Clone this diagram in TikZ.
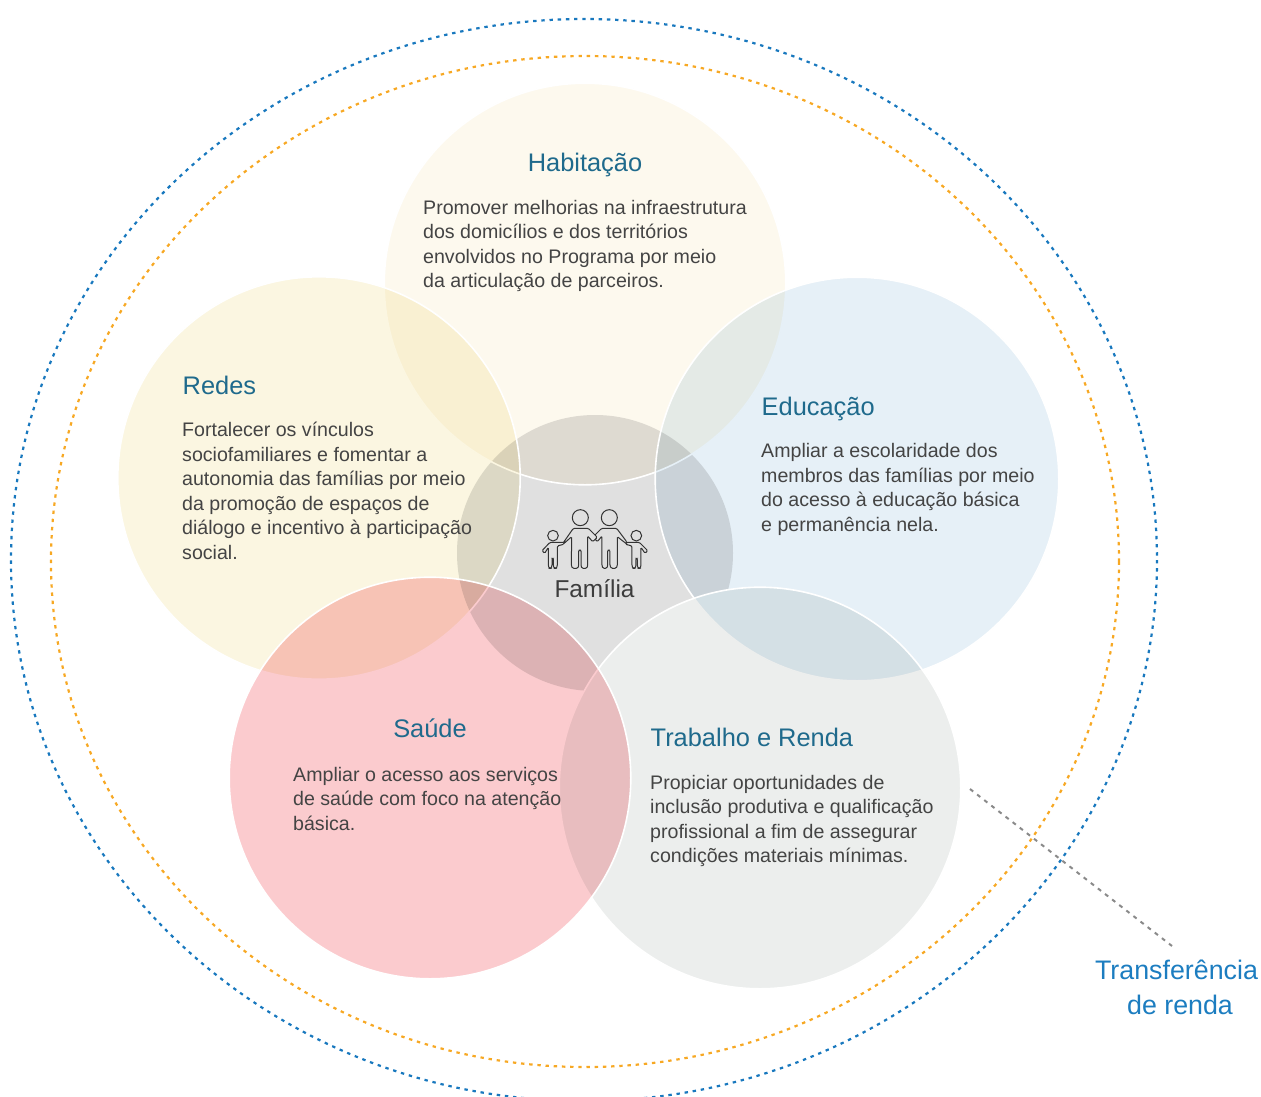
\documentclass[tikz,border=0pt]{standalone}
\usepackage{fontspec}
\setmainfont{Liberation Sans}
\definecolor{cHab}{HTML}{FDF9EE}
\definecolor{cRed}{HTML}{FBF6E1}
\definecolor{cEdu}{HTML}{E6F0F7}
\definecolor{cSau}{HTML}{FBCBCE}
\definecolor{cTra}{HTML}{ECEEED}
\definecolor{cCen}{HTML}{E0E0E0}
\definecolor{cBlue}{HTML}{1878BE}
\definecolor{cOrange}{HTML}{F7A823}
\definecolor{cGrey}{HTML}{8A8A8A}
\definecolor{cTitle}{HTML}{1F6A8C}
\definecolor{cText}{HTML}{444444}
\definecolor{cLabel}{HTML}{1C7DC0}
\tikzset{
  x=1pt,y=-1pt,
  fillc/.style={fill=#1,draw=none,blend mode=multiply},
  edgec/.style={draw=white,line width=1.6pt,fill=none},
  ring/.style={draw=#1,line width=2.2pt,dash pattern=on 3.4pt off 4.8pt,fill=none},
  leadline/.style={draw=cGrey,line width=2pt,dash pattern=on 4pt off 5pt},
  titletxt/.style={anchor=base,inner sep=0pt,text=cTitle,font=\fontsize{25.4}{30}\selectfont},
  bodytxt/.style={anchor=north west,inner sep=0pt,align=left,text=cText,font=\fontsize{19.6}{24.5}\selectfont},
  icon/.style={draw=black!80,line width=1pt,fill=none,rounded corners=1.2pt},
}
\begin{document}
\begin{tikzpicture}
\useasboundingbox (0,0) rectangle (1261,1096);
\begin{scope}
\clip (0,0) rectangle (1261,1096);
\path[fillc=cCen] (595,553) circle (138);
\fill[white] (760,788) circle (200.8);
\path[fillc=cHab] (585,284) circle (200.8);
\draw[edgec] (585,284) circle (200.8);
\path[fillc=cEdu] (857,479) circle (201.8);
\draw[edgec] (857,479) circle (201.8);
\path[fillc=cRed] (319,478) circle (201.2);
\draw[edgec] (319,478) circle (201.2);
\path[fillc=cTra] (760,788) circle (200.8);
\draw[edgec] (760,788) circle (200.8);
\path[fillc=cSau] (430,778) circle (200.8);
\draw[edgec] (430,778) circle (200.8);
\draw[ring=cBlue] (584,560) ellipse [x radius=573,y radius=541];
\draw[ring=cOrange] (585,561.5) ellipse [x radius=534,y radius=505.5];
\end{scope}
\coordinate (leadA) at (970,789);
\coordinate (leadB) at (1172,946);
\draw[leadline] (leadA) -- (leadB);
\node[titletxt] (tHab) at (585,171) {Habitação};
\node[bodytxt] (bHab) at (423,200) {Promover melhorias na infraestrutura\\dos domicílios e dos territórios\\envolvidos no Programa por meio\\da articulação de parceiros.};
\node[titletxt,anchor=base west] (tRed) at (182.5,394) {Redes};
\node[bodytxt] (bRed) at (182,422) {Fortalecer os vínculos\\sociofamiliares e fomentar a\\autonomia das famílias por meio\\da promoção de espaços de\\diálogo e incentivo à participação\\social.};
\node[titletxt,anchor=base west] (tEdu) at (761.5,415) {Educação};
\node[bodytxt] (bEdu) at (761,443.5) {Ampliar a escolaridade dos\\membros das famílias por meio\\do acesso à educação básica\\e permanência nela.};
\node[titletxt] (tSau) at (430,737) {Saúde};
\node[bodytxt] (bSau) at (293,767) {Ampliar o acesso aos serviços\\de saúde com foco na atenção\\básica.};
\node[titletxt,anchor=base west] (tTra) at (650.5,746) {Trabalho e Renda};
\node[bodytxt] (bTra) at (650,775) {Propiciar oportunidades de\\inclusão produtiva e qualificação\\profissional a fim de assegurar\\condições materiais mínimas.};
\node[anchor=base,inner sep=0pt,text=cText!90!black,font=\fontsize{24.4}{30}\selectfont] (fam) at (594.5,597) {Família};
\node[anchor=north,inner sep=0pt,align=center,text=cLabel,font=\fontsize{26.8}{34.5}\selectfont] (lab) at (1176.5,960) {Transferência\\\hspace*{7pt}de renda};
\begin{scope}[shift={(520,490)},x=0.3333pt,y=-0.3333pt]
\draw[icon] (181,83) circle [radius=24];
\draw[icon] (268,83) circle [radius=24];
\draw[icon] (99,137) circle [radius=16];
\draw[icon] (349,137) circle [radius=16];
\draw[icon] (130,158) -- (160,115) -- (205,115) -- (232,142) -- (218,155) -- (203,138) -- (203,228) -- (200,235) -- (186,235) -- (183,228) -- (183,180) -- (176,180) -- (176,228) -- (173,235) -- (158,235) -- (154,228) -- (155,140) -- (130,162);
\draw[icon] (225,135) -- (245,115) -- (290,115) -- (320,155) -- (320,162) -- (292,140) -- (292,228) -- (288,235) -- (274,235) -- (270,228) -- (270,180) -- (263,180) -- (263,228) -- (260,235) -- (249,235) -- (246,228) -- (246,138) -- (232,155) -- (225,147);
\draw[icon] (130,157) -- (90,157) -- (66,182) -- (74,190) -- (85,172) -- (85,228) -- (88,235) -- (93,235) -- (96,228) -- (96,205) -- (100,205) -- (100,228) -- (103,235) -- (109,235) -- (112,228) -- (112,168) -- (130,163);
\draw[icon] (318,157) -- (358,157) -- (383,182) -- (375,190) -- (363,172) -- (363,228) -- (360,235) -- (355,235) -- (352,228) -- (352,205) -- (348,205) -- (348,228) -- (345,235) -- (339,235) -- (336,228) -- (336,168) -- (318,163);
\end{scope}
\end{tikzpicture}
\end{document}
